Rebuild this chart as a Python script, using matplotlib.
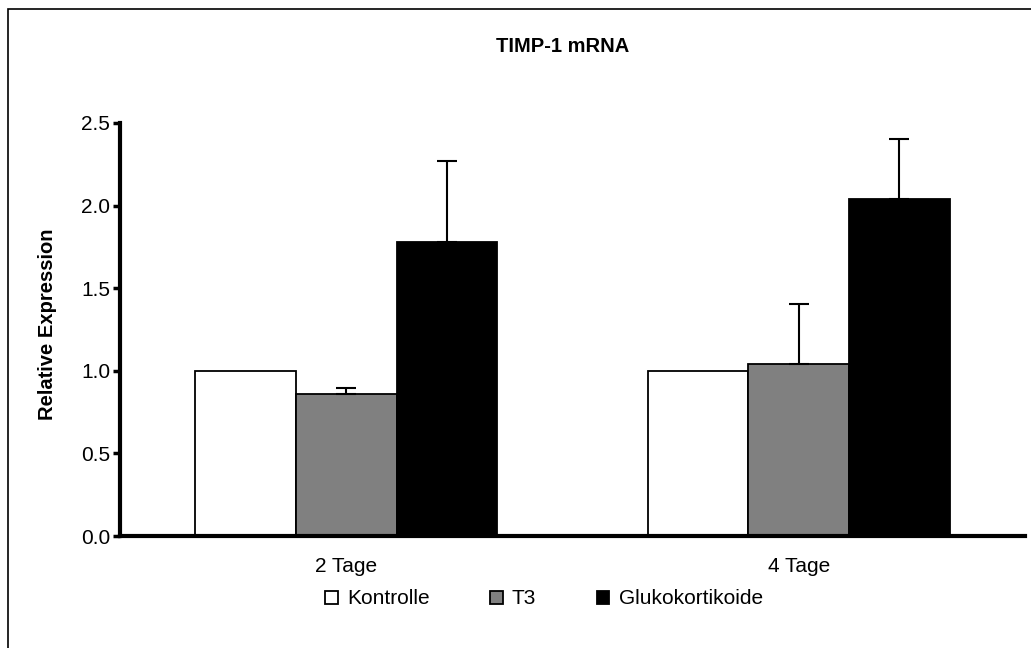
import numpy as np
import matplotlib.pyplot as plt
from matplotlib.patches import Rectangle

plt.rcParams['font.family'] = ['Liberation Sans', 'DejaVu Sans']

# Daten
gruppen = ["2 Tage", "4 Tage"]
serien = ["Kontrolle", "T3", "Glukokortikoide"]
kontrolle = [1.0, 1.0]
t3 = [0.858, 1.039]
gluko = [1.78, 2.039]
kontrolle_err = [0.0, 0.0]
t3_err = [0.038, 0.364]
gluko_err = [0.488, 0.362]
farben = ["white", "#808080", "black"]

fig = plt.figure(figsize=(10.31, 6.48), dpi=100)
ax = fig.add_axes([120/1031, 1-536/648, (1025-120)/1031, (536-123)/648])

x = np.arange(len(gruppen))
w = 1/4.5
werte = [kontrolle, t3, gluko]
fehler = [kontrolle_err, t3_err, gluko_err]
for i in range(3):
    pos = x + (i-1)*w
    ax.bar(pos, werte[i], w, color=farben[i], edgecolor="black", linewidth=1.3,
           label=serien[i], zorder=2)
    if i > 0:
        ax.errorbar(pos, werte[i], yerr=[np.zeros(2), fehler[i]], fmt="none",
                    ecolor="black", elinewidth=1.5, capsize=7.5, capthick=1.5, zorder=3)

ax.set_xlim(-0.5, 1.5)
ax.set_ylim(0, 2.5)
ax.set_yticks([0, 0.5, 1.0, 1.5, 2.0, 2.5])
ax.set_yticklabels(["0.0", "0.5", "1.0", "1.5", "2.0", "2.5"])
ax.set_xticks(x)
ax.set_xticklabels(gruppen)
ax.tick_params(axis="y", length=5, width=2.5, labelsize=15, pad=2)
ax.tick_params(axis="x", length=0, labelsize=15, pad=15)
for s in ["top", "right"]:
    ax.spines[s].set_visible(False)
ax.spines["left"].set_linewidth(3)
ax.spines["bottom"].set_linewidth(3)
ax.set_ylabel("Relative Expression", fontsize=14.5, fontweight="bold")
ax.yaxis.set_label_coords(57/1031, 0.5, transform=fig.transFigure)

fig.text(563/1031, 1-46/648, "TIMP-1 mRNA", ha="center", va="center",
         fontsize=14.5, fontweight="bold")

fig.legend(loc="center", bbox_to_anchor=(544/1031, 1-599/648), ncol=3, frameon=False,
           fontsize=15, handlelength=0.6, handleheight=0.6, handletextpad=0.45,
           columnspacing=2.9)

# Rahmen (rechts und unten abgeschnitten)
fig.patches.append(Rectangle((8/1031, -0.1), 1.2, 1-9/648+0.1, transform=fig.transFigure,
                             fill=False, edgecolor="black", linewidth=1.2))

fig.savefig("out.png", dpi=100)
